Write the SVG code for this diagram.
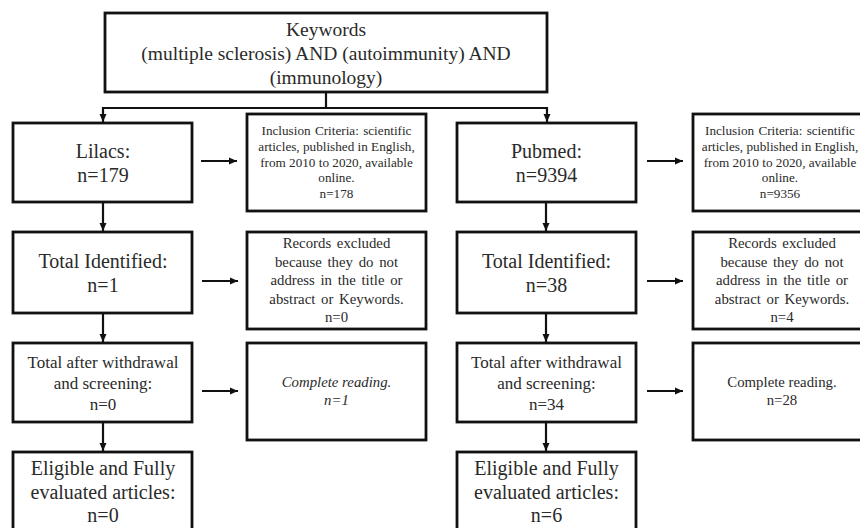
<svg xmlns="http://www.w3.org/2000/svg" width="860" height="528" viewBox="0 0 860 528" font-family="'Liberation Serif', 'DejaVu Serif', serif">
<defs>
<style>
.box{fill:#fff;stroke:#111;stroke-width:2.8}
.ln{fill:none;stroke:#111;stroke-width:2.2}
text{font-family:'Liberation Serif','DejaVu Serif',serif;fill:#2a2a2a;text-anchor:middle}
.big{font-size:20px}
.mid{font-size:17px}
.key{font-size:19.5px}
.sm{font-size:13.2px}
.rec{font-size:14.8px}
.it{font-style:italic}
</style>
<marker id="ah" markerUnits="userSpaceOnUse" markerWidth="8" markerHeight="8" refX="8" refY="4" orient="auto">
<path d="M0,0.5 L8,4 L0,7.5 z" fill="#111"/>
</marker>
</defs>
<rect width="860" height="528" fill="#fff"/>

<g id="connectors">
<path class="ln" d="M326,92 V108"/>
<path class="ln" d="M103,108 H547"/>
<path class="ln" d="M103,107 V122" marker-end="url(#ah)"/>
<path class="ln" d="M547,107 V122" marker-end="url(#ah)"/>
<path class="ln" d="M103,202 V231" marker-end="url(#ah)"/>
<path class="ln" d="M103,313 V342" marker-end="url(#ah)"/>
<path class="ln" d="M103,422 V451" marker-end="url(#ah)"/>
<path class="ln" d="M546,202 V231" marker-end="url(#ah)"/>
<path class="ln" d="M546,313 V342" marker-end="url(#ah)"/>
<path class="ln" d="M546,422 V451" marker-end="url(#ah)"/>
<path class="ln" d="M201,161 H237" marker-end="url(#ah)"/>
<path class="ln" d="M202,281 H238" marker-end="url(#ah)"/>
<path class="ln" d="M202,391 H238" marker-end="url(#ah)"/>
<path class="ln" d="M647,161 H683" marker-end="url(#ah)"/>
<path class="ln" d="M647,281 H683" marker-end="url(#ah)"/>
<path class="ln" d="M647,391 H683" marker-end="url(#ah)"/>
</g>

<g id="keywords">
<rect class="box" x="105" y="13" width="442" height="79"/>
<text class="key" x="326" y="36">Keywords</text>
<text class="key" x="326" y="60">(multiple sclerosis) AND (autoimmunity) AND</text>
<text class="key" x="326" y="84">(immunology)</text>
</g>

<g id="lilacs">
<rect class="box" x="13" y="123" width="179" height="79"/>
<text class="big" x="103" y="158">Lilacs:</text>
<text class="big" x="103" y="182">n=179</text>
</g>

<g id="incl1">
<rect class="box" x="247" y="114" width="179" height="97"/>
<text class="sm" x="336.5" y="135" word-spacing="1">Inclusion Criteria:  scientific</text>
<text class="sm" x="336.5" y="151">articles, published in English,</text>
<text class="sm" x="336.5" y="166.5">from 2010 to 2020, available</text>
<text class="sm" x="336.5" y="182">online.</text>
<text class="sm" x="336.5" y="197.5">n=178</text>
</g>

<g id="ident1">
<rect class="box" x="13" y="232" width="179" height="81"/>
<text class="big" x="103" y="268">Total Identified:</text>
<text class="big" x="103" y="292">n=1</text>
</g>

<g id="excl1">
<rect class="box" x="247" y="232" width="179" height="97"/>
<text class="rec" x="336.5" y="248" word-spacing="2">Records excluded</text>
<text class="rec" x="336.5" y="266.5" word-spacing="2">because they do not</text>
<text class="rec" x="336.5" y="285" word-spacing="2">address in the title or</text>
<text class="rec" x="336.5" y="303.5" word-spacing="2">abstract or Keywords.</text>
<text class="rec" x="336.5" y="322">n=0</text>
</g>

<g id="after1">
<rect class="box" x="13" y="343" width="179" height="79"/>
<text class="mid" x="103" y="368">Total after withdrawal</text>
<text class="mid" x="103" y="389">and screening:</text>
<text class="mid" x="103" y="410">n=0</text>
</g>

<g id="read1">
<rect class="box" x="247" y="343" width="179" height="97"/>
<text class="rec it" x="336.5" y="387">Complete reading.</text>
<text class="rec it" x="336.5" y="405">n=1</text>
</g>

<g id="elig1">
<rect class="box" x="13" y="452" width="179" height="90"/>
<text class="big" x="103" y="475">Eligible and Fully</text>
<text class="big" x="103" y="498.5">evaluated articles:</text>
<text class="big" x="103" y="522">n=0</text>
</g>

<g id="pubmed">
<rect class="box" x="457" y="123" width="179" height="79"/>
<text class="big" x="546.5" y="158">Pubmed:</text>
<text class="big" x="546.5" y="182">n=9394</text>
</g>

<g id="incl2">
<rect class="box" x="693" y="114" width="179" height="97"/>
<text class="sm" x="780" y="135" word-spacing="1">Inclusion Criteria:  scientific</text>
<text class="sm" x="780" y="151">articles, published in English,</text>
<text class="sm" x="780" y="166.5">from 2010 to 2020, available</text>
<text class="sm" x="780" y="182">online.</text>
<text class="sm" x="780" y="197.5">n=9356</text>
</g>

<g id="ident2">
<rect class="box" x="457" y="232" width="179" height="81"/>
<text class="big" x="546.5" y="268">Total Identified:</text>
<text class="big" x="546.5" y="292">n=38</text>
</g>

<g id="excl2">
<rect class="box" x="693" y="232" width="179" height="97"/>
<text class="rec" x="782" y="248" word-spacing="2">Records excluded</text>
<text class="rec" x="782" y="266.5" word-spacing="2">because they do not</text>
<text class="rec" x="782" y="285" word-spacing="2">address in the title or</text>
<text class="rec" x="782" y="303.5" word-spacing="2">abstract or Keywords.</text>
<text class="rec" x="782" y="322">n=4</text>
</g>

<g id="after2">
<rect class="box" x="457" y="343" width="179" height="79"/>
<text class="mid" x="546.5" y="368">Total after withdrawal</text>
<text class="mid" x="546.5" y="389">and screening:</text>
<text class="mid" x="546.5" y="410">n=34</text>
</g>

<g id="read2">
<rect class="box" x="693" y="343" width="179" height="97"/>
<text class="rec" x="782" y="387">Complete reading.</text>
<text class="rec" x="782" y="405">n=28</text>
</g>

<g id="elig2">
<rect class="box" x="457" y="452" width="179" height="90"/>
<text class="big" x="546.5" y="475">Eligible and Fully</text>
<text class="big" x="546.5" y="498.5">evaluated articles:</text>
<text class="big" x="546.5" y="522">n=6</text>
</g>
</svg>
